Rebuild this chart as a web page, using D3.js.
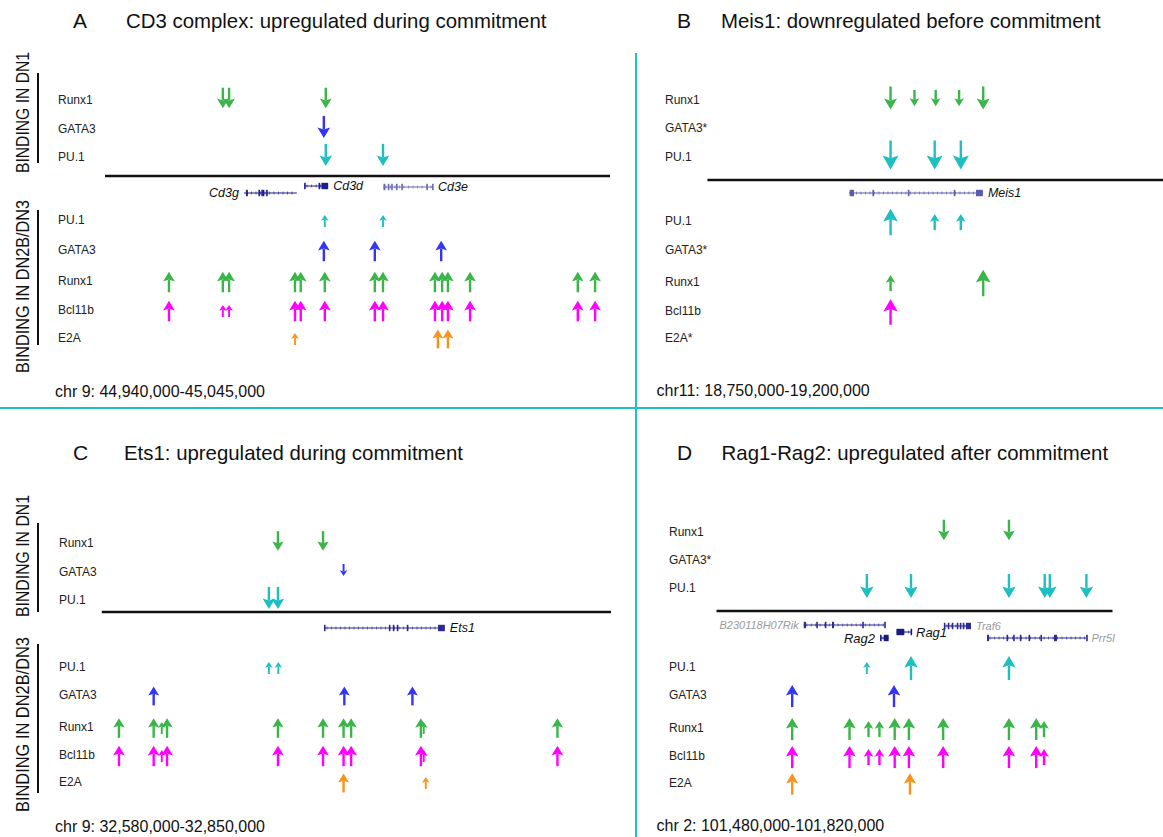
<!DOCTYPE html>
<html><head><meta charset="utf-8">
<script src="https://cdn.jsdelivr.net/npm/d3@7"></script>
<style>
body{margin:0;background:#fff;}
svg{display:block;font-family:"Liberation Sans",Arial,Helvetica,sans-serif;}
</style></head><body>
<svg id="chart" width="1163" height="837"></svg>
<script>
// ---------------- DATA ----------------
const panelIds = ["A", "B", "C", "D"];
const panelTitles = [
  "CD3 complex: upregulated during commitment",
  "Meis1: downregulated before commitment",
  "Ets1: upregulated during commitment",
  "Rag1-Rag2: upregulated after commitment"
];
const regionChr = ["chr 9", "chr11", "chr 9", "chr 2"];
const regionStart = [44940000, 18750000, 32580000, 101480000];
const regionEnd = [45045000, 19200000, 32850000, 101820000];

const dn1Factors = [
  ["Runx1", "GATA3", "PU.1"],
  ["Runx1", "GATA3*", "PU.1"],
  ["Runx1", "GATA3", "PU.1"],
  ["Runx1", "GATA3*", "PU.1"]
];
const dn2Factors = [
  ["PU.1", "GATA3", "Runx1", "Bcl11b", "E2A"],
  ["PU.1", "GATA3*", "Runx1", "Bcl11b", "E2A*"],
  ["PU.1", "GATA3", "Runx1", "Bcl11b", "E2A"],
  ["PU.1", "GATA3", "Runx1", "Bcl11b", "E2A"]
];

// peaks: [factor, position (kb), peak score]
const peaksA_DN1 = [
  ["Runx1", 44964.5, 2], ["Runx1", 44965.8, 2], ["Runx1", 44985.9, 2],
  ["GATA3", 44985.5, 2.2],
  ["PU.1", 44985.9, 2.2], ["PU.1", 44997.8, 2.2]
];
const peaksA_DN2 = [
  ["PU.1", 44985.7, 1], ["PU.1", 44997.8, 1],
  ["GATA3", 44985.5, 2], ["GATA3", 44996.1, 2], ["GATA3", 45009.9, 2],
  ["Runx1", 44953.3, 2], ["Runx1", 44964.5, 2], ["Runx1", 44965.8, 2], ["Runx1", 44979.5, 2],
  ["Runx1", 44980.7, 2], ["Runx1", 44985.7, 2], ["Runx1", 44996.1, 2], ["Runx1", 44997.8, 2],
  ["Runx1", 45008.6, 2], ["Runx1", 45010.1, 2], ["Runx1", 45011.3, 2], ["Runx1", 45015.9, 2],
  ["Runx1", 45038.3, 2], ["Runx1", 45041.9, 2],
  ["Bcl11b", 44953.3, 2], ["Bcl11b", 44964.5, 1], ["Bcl11b", 44965.8, 1], ["Bcl11b", 44979.5, 2],
  ["Bcl11b", 44980.7, 2], ["Bcl11b", 44985.7, 2], ["Bcl11b", 44996.1, 2], ["Bcl11b", 44997.8, 2],
  ["Bcl11b", 45008.6, 2], ["Bcl11b", 45010.1, 2], ["Bcl11b", 45011.3, 2], ["Bcl11b", 45015.9, 2],
  ["Bcl11b", 45038.3, 2], ["Bcl11b", 45041.9, 2],
  ["E2A", 44979.5, 1], ["E2A", 45009.2, 1.8], ["E2A", 45011.3, 1.8]
];
const peaksB_DN1 = [
  ["Runx1", 18930.9, 2.3], ["Runx1", 18954.5, 1.5], ["Runx1", 18975.5, 1.5],
  ["Runx1", 18998.6, 1.5], ["Runx1", 19022.4, 2.3],
  ["PU.1", 18930.9, 3], ["PU.1", 18974.5, 3], ["PU.1", 19000.3, 3]
];
const peaksB_DN2 = [
  ["PU.1", 18930.9, 2.7], ["PU.1", 18974.5, 1.5], ["PU.1", 19000.3, 1.5],
  ["Runx1", 18930.9, 1.5], ["Runx1", 19022.4, 2.7],
  ["Bcl11b", 18930.9, 2.6]
];
const peaksC_DN1 = [
  ["Runx1", 32673.4, 1.9], ["Runx1", 32697.3, 1.9],
  ["GATA3", 32708.2, 1],
  ["PU.1", 32668.6, 2.2], ["PU.1", 32673.4, 2.2]
];
const peaksC_DN2 = [
  ["PU.1", 32668.6, 1], ["PU.1", 32673.6, 1],
  ["GATA3", 32607.5, 1.8], ["GATA3", 32708.6, 1.8], ["GATA3", 32744.7, 1.8],
  ["Runx1", 32589.1, 1.9], ["Runx1", 32607.5, 1.9], ["Runx1", 32611.8, 1], ["Runx1", 32614.6, 1.9],
  ["Runx1", 32673.4, 1.9], ["Runx1", 32697.3, 1.9], ["Runx1", 32708.2, 1.9], ["Runx1", 32712.2, 1.9],
  ["Runx1", 32749.2, 1.9], ["Runx1", 32750.7, 1], ["Runx1", 32821.6, 1.9],
  ["Bcl11b", 32589.1, 2], ["Bcl11b", 32607.5, 2], ["Bcl11b", 32611.8, 1], ["Bcl11b", 32614.6, 2],
  ["Bcl11b", 32673.4, 2], ["Bcl11b", 32697.3, 2], ["Bcl11b", 32708.2, 2], ["Bcl11b", 32712.2, 2],
  ["Bcl11b", 32749.2, 2], ["Bcl11b", 32750.7, 1], ["Bcl11b", 32821.6, 2],
  ["E2A", 32708.2, 1.8], ["E2A", 32751.8, 1]
];
const peaksD_DN1 = [
  ["Runx1", 101675.2, 2], ["Runx1", 101731.1, 2],
  ["PU.1", 101609.1, 2.4], ["PU.1", 101647.0, 2.4], ["PU.1", 101731.1, 2.4],
  ["PU.1", 101761.8, 2.4], ["PU.1", 101766.2, 2.4], ["PU.1", 101797.6, 2.4]
];
const peaksD_DN2 = [
  ["PU.1", 101609.1, 1], ["PU.1", 101647.0, 2.4], ["PU.1", 101731.1, 2.4],
  ["GATA3", 101545.0, 2.2], ["GATA3", 101632.4, 2.2],
  ["Runx1", 101545.0, 2.2], ["Runx1", 101594.2, 2.2], ["Runx1", 101610.5, 1.5], ["Runx1", 101619.9, 1.5],
  ["Runx1", 101633.0, 2.2], ["Runx1", 101645.2, 2.2], ["Runx1", 101674.6, 2.2], ["Runx1", 101731.1, 2.2],
  ["Runx1", 101754.5, 2.2], ["Runx1", 101761.2, 1.5],
  ["Bcl11b", 101545.0, 2.2], ["Bcl11b", 101594.2, 2.2], ["Bcl11b", 101610.5, 1.5], ["Bcl11b", 101619.9, 1.5],
  ["Bcl11b", 101633.0, 2.2], ["Bcl11b", 101645.2, 2.2], ["Bcl11b", 101674.6, 2.2], ["Bcl11b", 101731.1, 2.2],
  ["Bcl11b", 101754.5, 2.2], ["Bcl11b", 101761.2, 1.5],
  ["E2A", 101545.0, 2.1], ["E2A", 101646.1, 2.1]
];

// genes: name, start (kb), end (kb), exons [[start, end], ...] (kb)
const genesA = [
  {name: "Cd3g", start: 44968.9, end: 44979.9, exons: [[44969.3, 44969.7], [44971.9, 44972.1], [44972.5, 44972.7], [44972.8, 44973.0], [44973.5, 44973.7]]},
  {name: "Cd3d", start: 44981.4, end: 44986.4, exons: [[44981.4, 44981.6], [44984.4, 44984.6], [44985.0, 44986.4]]},
  {name: "Cd3e", start: 44997.8, end: 45008.2, exons: [[44997.9, 44998.3], [44998.8, 44999.0], [44999.5, 44999.7], [45000.5, 45000.7], [45001.6, 45001.8], [45006.8, 45007.0], [45008.0, 45008.2]]}
];
const genesB = [
  {name: "Meis1", start: 18889.8, end: 19022.1, exons: [[18890.5, 18894.8], [18913.0, 18913.5], [18948.0, 18948.5], [18993.3, 18993.8], [19015.3, 19022.1]]}
];
const genesC = [
  {name: "Ets1", start: 32697.8, end: 32761.9, exons: [[32697.8, 32698.5], [32732.2, 32732.6], [32734.3, 32734.7], [32736.4, 32736.8], [32741.7, 32742.1], [32758.3, 32761.9]]}
];
const genesD = [
  {name: "B230118H07Rik", start: 101554.9, end: 101624.2, exons: [[101554.9, 101556.8], [101565.7, 101566.1], [101573.0, 101573.4], [101579.2, 101580.9], [101605.1, 101605.5], [101624.0, 101624.2]]},
  {name: "Rag2", start: 101620.4, end: 101627.8, exons: [[101620.4, 101620.8], [101623.6, 101627.8]]},
  {name: "Rag1", start: 101634.5, end: 101647.0, exons: [[101634.5, 101641.2], [101646.6, 101647.0]]},
  {name: "Traf6", start: 101675.2, end: 101698.5, exons: [[101675.2, 101675.6], [101678.6, 101679.0], [101682.0, 101682.4], [101686.3, 101686.7], [101688.9, 101689.3], [101691.4, 101691.8], [101694.2, 101698.5]]},
  {name: "Prr5l", start: 101712.3, end: 101797.6, exons: [[101712.3, 101714.0], [101729.0, 101729.4], [101734.7, 101735.1], [101740.4, 101740.8], [101747.9, 101748.3], [101758.1, 101758.5], [101769.8, 101772.3], [101797.4, 101797.6]]}
];

const peaksDN1 = [peaksA_DN1, peaksB_DN1, peaksC_DN1, peaksD_DN1];
const peaksDN2 = [peaksA_DN2, peaksB_DN2, peaksC_DN2, peaksD_DN2];
const genes = [genesA, genesB, genesC, genesD];

// ---------------- LAYOUT / STYLE ----------------
const layout = [
  {x0: 105, x1: 610, axisY: 176, letterX: 73, titleX: 126, titleY: 28, labelX: 58,
   dn1Rows: [100, 129, 157], dn2Rows: [220, 250, 281, 310, 338], chrX: 55, chrY: 391,
   brackets: [{text: "BINDING IN DN1", bottom: 173, len: 121, y0: 73, y1: 163},
              {text: "BINDING IN DN2B/DN3", bottom: 373, len: 173, y0: 210, y1: 345}]},
  {x0: 707.4, x1: 1163, axisY: 180, letterX: 677, titleX: 721, titleY: 28, labelX: 665,
   dn1Rows: [100, 128, 157], dn2Rows: [221, 250, 282, 311, 338], chrX: 656.5, chrY: 390,
   brackets: []},
  {x0: 101.8, x1: 611, axisY: 612, letterX: 73, titleX: 124, titleY: 460, labelX: 59,
   dn1Rows: [543, 572, 600], dn2Rows: [667, 695, 727, 755, 782], chrX: 55, chrY: 826,
   brackets: [{text: "BINDING IN DN1", bottom: 617, len: 122, y0: 523, y1: 612},
              {text: "BINDING IN DN2B/DN3", bottom: 812, len: 175, y0: 644, y1: 793}]},
  {x0: 716.5, x1: 1112.5, axisY: 611, letterX: 677, titleX: 721.6, titleY: 460, labelX: 669,
   dn1Rows: [532, 560, 588], dn2Rows: [667, 695, 728, 756, 783], chrX: 656.5, chrY: 825,
   brackets: []}
];
const geneStyle = {
  "Cd3g": {y: 193, side: "left", color: "#1e1e8c", label: "#111", fs: 12.5},
  "Cd3d": {y: 186, side: "right", color: "#1e1e8c", label: "#111", fs: 12.5},
  "Cd3e": {y: 187, side: "right", color: "#6a6ab4", label: "#111", fs: 12.5},
  "Meis1": {y: 193, side: "right", color: "#5a5ab0", label: "#111", fs: 12.5},
  "Ets1": {y: 628, side: "right", color: "#2a2a90", label: "#111", fs: 12.5},
  "B230118H07Rik": {y: 625, side: "left", color: "#2a2a90", label: "#9a9a9a", fs: 11},
  "Rag2": {y: 638, side: "left", color: "#1a1a80", label: "#111", fs: 13},
  "Rag1": {y: 632, side: "right", color: "#1a1a80", label: "#111", fs: 13},
  "Traf6": {y: 626, side: "right", color: "#2a2a90", label: "#9a9a9a", fs: 11},
  "Prr5l": {y: 638, side: "right", color: "#2a2a90", label: "#9a9a9a", fs: 11}
};

const tfColor = d3.scaleOrdinal()
  .domain(["Runx1", "GATA3", "PU.1", "Bcl11b", "E2A"])
  .range(["#3bb54a", "#3434f2", "#1dbfc0", "#ff00ff", "#f7941d"]);
const lenScale = d3.scaleLinear().domain([1, 3]).range([12, 29]);
const divider = "#1fc2c4";

const svg = d3.select("#chart");

function drawArrow(g, cx, cy, len, dir, color) {
  // dir = +1 points down, -1 points up
  const tipY = cy + dir * len / 2;
  const tailY = cy - dir * len / 2;
  const hl = len * 0.48;
  const hw = Math.max(7.5, len * 0.5 + 1.5);
  const baseY = tipY - dir * hl;
  const notchY = tipY - dir * hl * 0.8;
  g.append("line")
    .attr("x1", cx).attr("x2", cx)
    .attr("y1", tailY).attr("y2", notchY)
    .attr("stroke", color).attr("stroke-width", len > 14 ? 2.4 : 1.9);
  g.append("path")
    .attr("d", `M${cx},${tipY}L${cx - hw / 2},${baseY}L${cx},${notchY}L${cx + hw / 2},${baseY}Z`)
    .attr("fill", color);
}

panelIds.forEach((id, i) => {
  const L = layout[i];
  const g = svg.append("g");
  const x = d3.scaleLinear()
    .domain([regionStart[i] / 1000, regionEnd[i] / 1000])
    .range([L.x0, L.x1]);

  // title
  g.append("text").attr("x", L.letterX).attr("y", L.titleY)
    .attr("font-size", 21).attr("fill", "#111").text(id);
  g.append("text").attr("x", L.titleX).attr("y", L.titleY)
    .attr("font-size", 20.4).attr("fill", "#111").text(panelTitles[i]);

  // brackets
  L.brackets.forEach(b => {
    g.append("text")
      .attr("transform", `translate(29,${b.bottom}) rotate(-90)`)
      .attr("font-size", 18).attr("fill", "#111")
      .attr("textLength", b.len).attr("lengthAdjust", "spacingAndGlyphs")
      .text(b.text);
    g.append("line").attr("x1", 38).attr("x2", 38).attr("y1", b.y0).attr("y2", b.y1)
      .attr("stroke", "#111").attr("stroke-width", 2);
  });

  // row labels
  dn1Factors[i].forEach((f, k) => {
    g.append("text").attr("x", L.labelX).attr("y", L.dn1Rows[k])
      .attr("dy", "0.35em").attr("font-size", 12).attr("fill", "#222").text(f);
  });
  dn2Factors[i].forEach((f, k) => {
    g.append("text").attr("x", L.labelX).attr("y", L.dn2Rows[k])
      .attr("dy", "0.35em").attr("font-size", 12).attr("fill", "#222").text(f);
  });

  // axis line (genomic region)
  g.append("line")
    .attr("x1", x.range()[0]).attr("x2", x.range()[1])
    .attr("y1", L.axisY).attr("y2", L.axisY)
    .attr("stroke", "#111").attr("stroke-width", 2.4);

  // genes
  genes[i].forEach(gene => {
    const st = geneStyle[gene.name];
    const gx0 = x(gene.start), gx1 = x(gene.end);
    const gg = g.append("g");
    gg.append("line").attr("x1", gx0).attr("x2", gx1).attr("y1", st.y).attr("y2", st.y)
      .attr("stroke", st.color).attr("stroke-width", 1);
    d3.range(gx0 + 3, gx1 - 1, 4.5).forEach(tx => {
      gg.append("line").attr("x1", tx).attr("x2", tx).attr("y1", st.y - 1.5).attr("y2", st.y + 1.5)
        .attr("stroke", st.color).attr("stroke-width", 0.8).attr("opacity", 0.8);
    });
    gene.exons.forEach(e => {
      const ex0 = x(e[0]), ex1 = x(e[1]);
      const w = Math.max(1.6, ex1 - ex0);
      gg.append("rect").attr("x", ex0).attr("y", st.y - 3.2).attr("width", w).attr("height", 6.4)
        .attr("fill", st.color);
    });
    const lbl = gg.append("text")
      .attr("y", st.y).attr("dy", "0.35em")
      .attr("font-size", st.fs).attr("font-style", "italic").attr("fill", st.label)
      .text(gene.name);
    if (st.side === "left") lbl.attr("x", gx0 - 5).attr("text-anchor", "end");
    else lbl.attr("x", gx1 + 5);
  });

  // peaks
  const rowY1 = f => L.dn1Rows[dn1Factors[i].map(s => s.replace("*", "")).indexOf(f)];
  const rowY2 = f => L.dn2Rows[dn2Factors[i].map(s => s.replace("*", "")).indexOf(f)];
  const ag = g.append("g");
  peaksDN1[i].forEach(p => {
    drawArrow(ag, x(p[1]), rowY1(p[0]) - 2, lenScale(p[2]), 1, tfColor(p[0]));
  });
  peaksDN2[i].forEach(p => {
    drawArrow(ag, x(p[1]), rowY2(p[0]) + 1, lenScale(p[2]), -1, tfColor(p[0]));
  });

  // region label
  g.append("text").attr("x", L.chrX).attr("y", L.chrY).attr("dy", "0.35em")
    .attr("font-size", 16).attr("fill", "#111")
    .text(`${regionChr[i]}: ${d3.format(",")(regionStart[i])}-${d3.format(",")(regionEnd[i])}`);
});

// panel dividers
svg.append("line").attr("x1", 636).attr("x2", 636).attr("y1", 53).attr("y2", 837)
  .attr("stroke", divider).attr("stroke-width", 2);
svg.append("line").attr("x1", 0).attr("x2", 1163).attr("y1", 408).attr("y2", 408)
  .attr("stroke", divider).attr("stroke-width", 2);
</script>
</body></html>
